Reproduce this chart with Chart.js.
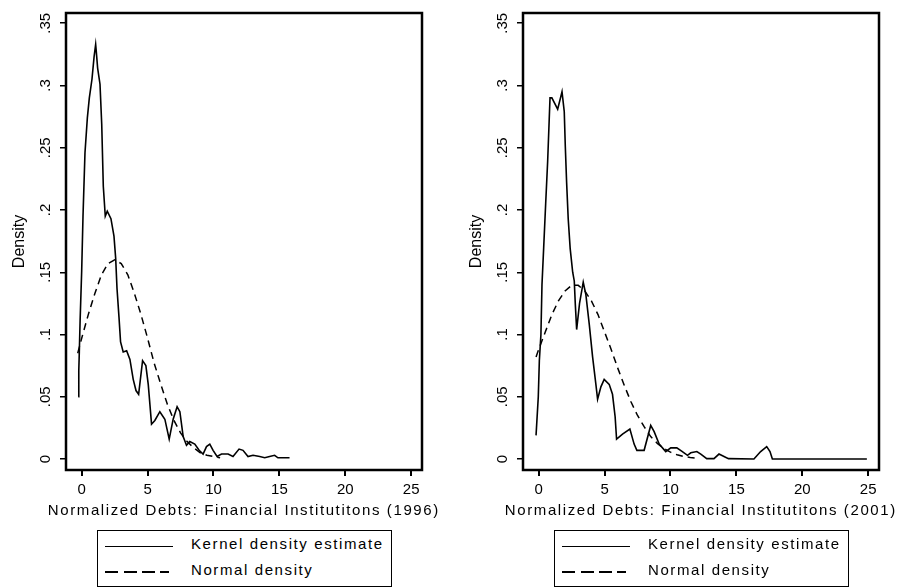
<!DOCTYPE html>
<html>
<head>
<meta charset="utf-8">
<script src="https://cdn.jsdelivr.net/npm/chart.js@4.4.1/dist/chart.umd.min.js"></script>
<style>
    body { margin: 0; background: #fff; }
    #wrap { position: relative; width: 899px; height: 588px; overflow: hidden; font-family: 'Liberation Sans', Arial, sans-serif; }
    .panel { position: absolute; top: 0; width: 442px; height: 588px; }
    .panel canvas { position: absolute; left: 0; top: 0; }
    .xtitle { position: absolute; left: 0; width: 487.7px; top: 500.5px; text-align: center; font-size: 15px; line-height: 18px; letter-spacing: 1.6px; color: #000; white-space: nowrap; }
    .legend { position: absolute; left: 97px; top: 530px; width: 295px; height: 57px; border: 1.5px solid #000; box-sizing: border-box; }
    .legend .swatch { position: absolute; left: 7px; width: 68px; height: 1.5px; background: #000; }
    .legend .swatch.dash { background: repeating-linear-gradient(to right, #000 0 13px, transparent 13px 18.5px); width: 64px; }
    .legend .lbl { position: absolute; left: 93px; font-size: 15px; letter-spacing: 1.6px; line-height: 18px; color: #000; white-space: nowrap; }
</style>
</head>
<body>
<div id="wrap">
    <div class="panel" style="left:0">
        <canvas id="c96" width="442" height="525"></canvas>
        <div class="xtitle" id="xt96"></div>
        <div class="legend" id="leg96"></div>
    </div>
    <div class="panel" style="left:457px">
        <canvas id="c01" width="442" height="525"></canvas>
        <div class="xtitle" id="xt01"></div>
        <div class="legend" id="leg01"></div>
    </div>
</div>
<script>
// ── Data ──
const xTicks = [0, 5, 10, 15, 20, 25];
const yTicks = [0, 0.05, 0.1, 0.15, 0.2, 0.25, 0.3, 0.35];
const legendLabels = ['Kernel density estimate', 'Normal density'];
const xTitles = ['Normalized Debts: Financial Institutitons (1996)', 'Normalized Debts: Financial Institutitons (2001)'];
const yTitle = 'Density';

// 1996 kernel density estimate
const kernel96X = [-0.26, -0.22, -0.18, -0.12, 0.0, 0.1, 0.25, 0.43, 0.58, 0.78, 0.94, 1.06, 1.11, 1.21, 1.39, 1.52, 1.64, 1.79, 1.94, 2.22,
    2.45, 2.58, 2.68, 2.83, 2.95, 3.15, 3.41, 3.66, 3.91, 4.12, 4.32, 4.62, 4.87, 5.05, 5.30, 5.55, 5.93, 6.31, 6.64, 6.94,
    7.24, 7.45, 7.70, 7.95, 8.20, 8.58, 8.91, 9.21, 9.47, 9.72, 9.97, 10.27, 10.61, 11.11, 11.48, 11.94, 12.24, 12.62, 13.0, 13.51,
    13.89, 14.26, 14.64, 14.89, 15.77];
const kernel96Y = [0.050, 0.071, 0.086, 0.111, 0.151, 0.195, 0.246, 0.274, 0.290, 0.305, 0.323, 0.333, 0.327, 0.314, 0.301, 0.269, 0.219, 0.195, 0.199, 0.193,
    0.179, 0.161, 0.137, 0.114, 0.094, 0.086, 0.087, 0.080, 0.064, 0.055, 0.052, 0.079, 0.075, 0.060, 0.028, 0.031, 0.038, 0.032, 0.016, 0.032,
    0.042, 0.038, 0.018, 0.011, 0.014, 0.012, 0.007, 0.004, 0.010, 0.012, 0.007, 0.002, 0.004, 0.004, 0.002, 0.008, 0.007, 0.002, 0.003, 0.002,
    0.001, 0.002, 0.003, 0.001, 0.001];

// 1996 normal density
const normal96X = [-0.3, 0, 0.5, 1, 1.5, 2, 2.5, 3, 3.5, 4, 4.5, 5, 5.5, 6, 6.5, 7, 7.5, 8, 8.5, 9, 9.5, 10, 10.5];
const normal96Y = [0.085, 0.097, 0.116, 0.133, 0.148, 0.157, 0.160, 0.157, 0.148, 0.133, 0.116, 0.097, 0.077, 0.060, 0.044, 0.031, 0.021, 0.014, 0.009, 0.005, 0.003, 0.002, 0.001];

// 2001 kernel density estimate
const kernel01X = [-0.2, -0.03, 0.05, 0.17, 0.25, 0.38, 0.53, 0.68, 0.80, 0.86, 1.0, 1.44, 1.77, 1.94, 2.02, 2.12, 2.24, 2.39, 2.58, 2.70,
    2.78, 2.88, 3.1, 3.38, 3.58, 3.84, 4.09, 4.34, 4.47, 4.72, 4.97, 5.35, 5.6, 5.8, 5.91, 6.36, 6.92, 7.24, 7.45, 8.0,
    8.5, 8.76, 9.14, 9.64, 10.02, 10.48, 10.9, 11.29, 11.54, 12.0, 12.3, 12.75, 13.3, 13.68, 14.06, 14.4, 16.33, 16.84, 17.3, 17.55,
    17.73, 24.9];
const kernel01Y = [0.019, 0.050, 0.079, 0.100, 0.140, 0.170, 0.205, 0.239, 0.273, 0.290, 0.290, 0.281, 0.295, 0.279, 0.251, 0.222, 0.193, 0.169, 0.150, 0.143,
    0.124, 0.104, 0.125, 0.142, 0.132, 0.108, 0.082, 0.060, 0.048, 0.058, 0.064, 0.060, 0.052, 0.034, 0.016, 0.020, 0.024, 0.012, 0.007, 0.007,
    0.027, 0.022, 0.012, 0.006, 0.009, 0.009, 0.006, 0.003, 0.005, 0.006, 0.004, 0.0003, 0.0003, 0.004, 0.002, 0.0003, 0, 0.006, 0.010, 0.006,
    0, 0];

// 2001 normal density
const normal01X = [-0.2, 0, 0.5, 1, 1.5, 2, 2.5, 3, 3.5, 4, 4.5, 5, 5.5, 6, 6.5, 7, 7.5, 8, 8.5, 9, 9.5, 10, 10.5, 11, 11.5, 12];
const normal01Y = [0.082, 0.088, 0.102, 0.116, 0.127, 0.135, 0.1395, 0.1395, 0.135, 0.127, 0.116, 0.102, 0.088, 0.073, 0.059, 0.046, 0.035, 0.026, 0.018, 0.0126, 0.0084, 0.0055, 0.0034, 0.0021, 0.0012, 0.0007];

const FONT = "'Liberation Sans', Arial, sans-serif";

// ── Plot frame ──
const framePlugin = {
    id: 'frame',
    afterDraw(chart) {
        const { ctx, chartArea: a } = chart;
        ctx.save();
        ctx.strokeStyle = '#000';
        ctx.lineWidth = 2.5;
        ctx.strokeRect(a.left, a.top, a.right - a.left, a.bottom - a.top);
        ctx.restore();
    }
};

const pts = (xs, ys) => xs.map((x, i) => ({ x, y: ys[i] }));
const fmtY = v => v === 0 ? '0' : String(v).replace(/^0/, '');

function makeChart(id, kx, ky, nx, ny) {
    return new Chart(document.getElementById(id), {
        type: 'line',
        data: {
            datasets: [
                { label: legendLabels[0], data: pts(kx, ky), borderColor: '#000', borderWidth: 1.6, pointRadius: 0, tension: 0 },
                { label: legendLabels[1], data: pts(nx, ny), borderColor: '#000', borderWidth: 1.5, borderDash: [7, 5], pointRadius: 0, tension: 0 }
            ]
        },
        options: {
            responsive: false, animation: false,
            layout: { padding: { top: 11, right: 20, bottom: 5, left: 0 } },
            plugins: { legend: { display: false }, tooltip: { enabled: false } },
            scales: {
                x: {
                    type: 'linear', min: -1.19, max: 25.82,
                    afterBuildTicks: s => { s.ticks = xTicks.map(v => ({ value: v })); },
                    afterFit: s => { s.height = 50; },
                    grid: { drawOnChartArea: false, drawTicks: true, tickLength: 6, color: '#000', lineWidth: 2 },
                    border: { display: false },
                    ticks: { color: '#000', font: { family: FONT, size: 15 }, padding: 5, maxRotation: 0, autoSkip: false, callback: v => String(v) },
                    title: { display: false }
                },
                y: {
                    type: 'linear', min: -0.0088, max: 0.3582,
                    afterBuildTicks: s => { s.ticks = yTicks.map(v => ({ value: v })); },
                    afterFit: s => { s.width = 66; },
                    grid: { drawOnChartArea: false, drawTicks: true, tickLength: 6, color: '#000', lineWidth: 1.5 },
                    border: { display: false },
                    ticks: { color: '#000', font: { family: FONT, size: 15 }, padding: 4, minRotation: 90, maxRotation: 90, crossAlign: 'center', autoSkip: false, callback: fmtY },
                    title: { display: true, text: yTitle, color: '#000', font: { family: FONT, size: 16 }, padding: { top: 10, bottom: 0 } }
                }
            }
        },
        plugins: [framePlugin]
    });
}

// ── Axis title + legend box (Stata style, below each plot) ──
function renderBelow(titleId, legId, title) {
    document.getElementById(titleId).textContent = title;
    document.getElementById(legId).innerHTML = `
        <div class="swatch" style="top:14.5px"></div>
        <div class="lbl" style="top:4px">${legendLabels[0]}</div>
        <div class="swatch dash" style="top:40px"></div>
        <div class="lbl" style="top:30px">${legendLabels[1]}</div>`;
}

makeChart('c96', kernel96X, kernel96Y, normal96X, normal96Y);
makeChart('c01', kernel01X, kernel01Y, normal01X, normal01Y);
renderBelow('xt96', 'leg96', xTitles[0]);
renderBelow('xt01', 'leg01', xTitles[1]);
</script>
</body>
</html>
